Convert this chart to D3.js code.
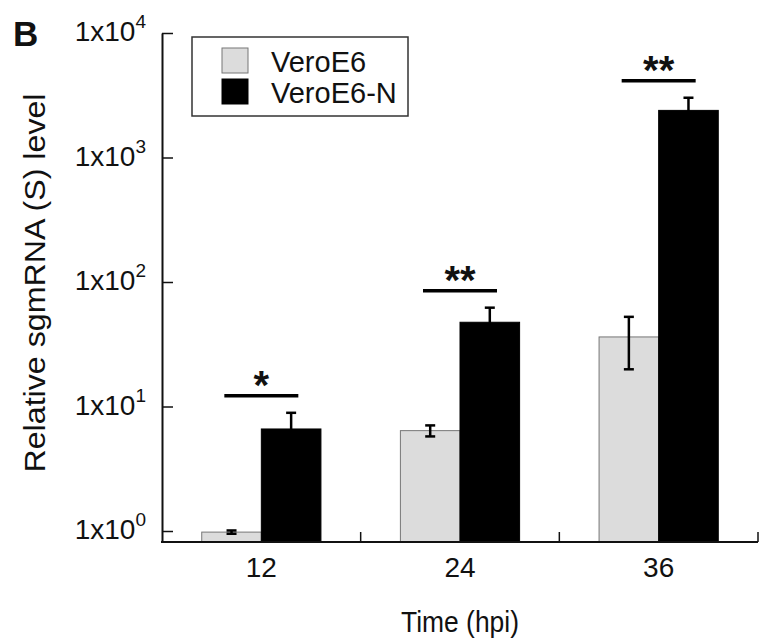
<!DOCTYPE html>
<html>
<head>
  <meta charset="utf-8">
  <style>
    body { margin: 0; background: #fff; }
    svg text { font-family: 'Liberation Sans', Arial, Helvetica, sans-serif; fill: #111; }
    line.axis { stroke: #111; stroke-width: 2; }
  </style>
</head>
<body>
<svg id="chart"></svg>
<script src="https://cdn.jsdelivr.net/npm/d3@7/dist/d3.min.js"></script>
<script>
// data
var times = ['12', '24', '36'];
var series = ['VeroE6', 'VeroE6-N'];
var veroMean = [0.98, 6.4, 36.2];
var veroSd = [0.03, 0.65, 16.3];
var veroNMean = [6.6, 47.5, 2390];
var veroNSd = [2.3, 14.7, 630];
var sigLabels = ['*', '**', '**'];
var yTicks = [1, 10, 100, 1000, 10000];
var yExps = ['0', '1', '2', '3', '4'];

var width = 763, height = 642;
var mLeft = 162, mRight = 758, mTop = 33, mBottom = 542;  //plot edges in px
var colors = ['#dcdcdc', '#000000'];

var svg = d3.select('#chart')
  .attr('width', width)
  .attr('height', height);

var x = d3.scaleBand().domain(times).range([mLeft, mRight]).padding(0);
var y = d3.scaleLog().domain([0.816, 10000]).range([mBottom, mTop]);
var barW = x.bandwidth() * 0.3;

// bars for each group
var rows = times.map((t, i) => ({
  t: t,
  vals: [
    { s: 0, mean: veroMean[i], sd: veroSd[i] },
    { s: 1, mean: veroNMean[i], sd: veroNSd[i] }
  ],
  sig: sigLabels[i]
}));

var groups = svg.selectAll('g.grp')
  .data(rows)
  .enter()
  .append('g')
  .attr('class', 'grp')
  .attr('transform', d => 'translate(' + (x(d.t) + x.bandwidth() / 2) + ',0)');

groups.selectAll('rect')
  .data(d => d.vals)
  .enter()
  .append('rect')
  .attr('x', d => d.s === 0 ? -barW : 0)
  .attr('width', barW)
  .attr('y', d => y(d.mean))
  .attr('height', d => mBottom - y(d.mean))
  .attr('fill', d => colors[d.s])
  .attr('stroke', d => d.s === 0 ? '#777' : '#000')
  .attr('stroke-width', 1);

// error bars
var err = groups.selectAll('g.err')
  .data(d => d.vals)
  .enter()
  .append('g')
  .attr('class', 'err')
  .attr('stroke', '#000')
  .attr('stroke-width', 2.5);

var cx = d => d.s === 0 ? -barW / 2 : barW / 2;
err.append('line')
  .attr('x1', cx).attr('x2', cx)
  .attr('y1', d => y(d.mean + d.sd))
  .attr('y2', d => y(Math.max(d.mean - d.sd, 0.82)));
err.append('line')
  .attr('x1', d => cx(d) - 5).attr('x2', d => cx(d) + 5)
  .attr('y1', d => y(d.mean + d.sd))
  .attr('y2', d => y(d.mean + d.sd));
err.filter(d => d.s === 0).append('line')
  .attr('x1', d => cx(d) - 5).attr('x2', d => cx(d) + 5)
  .attr('y1', d => y(d.mean - d.sd))
  .attr('y2', d => y(d.mean - d.sd));

// significance marks above the black bar
var sigY = d => y(d.vals[1].mean + d.vals[1].sd) - 17;
groups.append('line')
  .attr('x1', -37).attr('x2', 37)
  .attr('y1', sigY)
  .attr('y2', sigY)
  .attr('stroke', '#000')
  .attr('stroke-width', 3.5);

groups.append('text')
  .attr('x', 0)
  .attr('y', d => sigY(d) + 3)
  .attr('text-anchor', 'middle')
  .style('font-size', '40px')
  .style('font-weight', 'bold')
  .text(d => d.sig);

// y axis, ticks point inward
var yAxis = svg.append('g')
  .attr('transform', 'translate(' + mLeft + ',0)')
  .call(d3.axisLeft(y).tickValues(yTicks).tickSizeInner(-11).tickSizeOuter(0).tickFormat(''));
yAxis.select('.domain').attr('stroke', '#111').attr('stroke-width', 2);
yAxis.selectAll('.tick line').attr('stroke', '#111').attr('stroke-width', 1.5);
yAxis.selectAll('.tick text').remove();

var yLab = svg.selectAll('text.ylab')
  .data(yTicks)
  .enter()
  .append('text')
  .attr('class', 'ylab')
  .attr('x', 146)
  .attr('y', d => y(d) + 8)
  .attr('text-anchor', 'end')
  .style('font-size', '28px');
yLab.append('tspan').text('1x10');
yLab.append('tspan')
  .attr('dy', -13)
  .style('font-size', '19px')
  .text((d, i) => yExps[i]);

// x axis with separator ticks at band edges
svg.append('line')
  .attr('class', 'axis')
  .attr('x1', mLeft - 1).attr('x2', mRight)
  .attr('y1', mBottom).attr('y2', mBottom);

svg.selectAll('line.sep')
  .data(times)
  .enter()
  .append('line')
  .attr('class', 'sep')
  .attr('x1', d => x(d) + x.bandwidth())
  .attr('x2', d => x(d) + x.bandwidth())
  .attr('y1', mBottom)
  .attr('y2', mBottom - 10)
  .attr('stroke', '#111')
  .attr('stroke-width', 1.5);

svg.selectAll('text.xlab')
  .data(times)
  .enter()
  .append('text')
  .attr('class', 'xlab')
  .attr('x', d => x(d) + x.bandwidth() / 2)
  .attr('y', 577)
  .attr('text-anchor', 'middle')
  .style('font-size', '28px')
  .text(d => d);

// titles
svg.append('text')
  .attr('x', (mLeft + mRight) / 2)
  .attr('y', 632)
  .attr('text-anchor', 'middle')
  .attr('textLength', 118)
  .attr('lengthAdjust', 'spacingAndGlyphs')
  .style('font-size', '29px')
  .text('Time (hpi)');

svg.append('text')
  .attr('transform', 'translate(45,283) rotate(-90)')
  .attr('text-anchor', 'middle')
  .attr('textLength', 379)
  .attr('lengthAdjust', 'spacingAndGlyphs')
  .style('font-size', '29px')
  .text('Relative sgmRNA (S) level');

svg.append('text')
  .attr('x', 13)
  .attr('y', 46)
  .style('font-size', '35px')
  .style('font-weight', 'bold')
  .text('B');

// legend
var legend = svg.append('g');
legend.append('rect')
  .attr('x', 192).attr('y', 37)
  .attr('width', 216).attr('height', 79)
  .attr('fill', '#fff')
  .attr('stroke', '#333')
  .attr('stroke-width', 1.5);

var items = legend.selectAll('g.item')
  .data(series)
  .enter()
  .append('g')
  .attr('class', 'item')
  .attr('transform', (d, i) => 'translate(222,' + (48 + i * 31) + ')');

items.append('rect')
  .attr('width', 26).attr('height', 25)
  .attr('fill', (d, i) => colors[i])
  .attr('stroke', (d, i) => i === 0 ? '#777' : '#000');

items.append('text')
  .attr('x', 49)
  .attr('y', 24)
  .style('font-size', '29px')
  .text(d => d);
</script>
</body>
</html>
